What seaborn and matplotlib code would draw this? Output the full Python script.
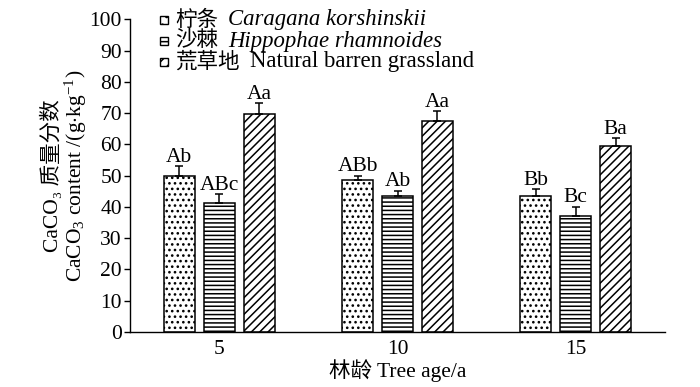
import matplotlib
matplotlib.use("Agg")
import matplotlib.pyplot as plt
import seaborn as sns
import pandas as pd
from matplotlib.patches import Rectangle
from matplotlib.offsetbox import HPacker, TextArea, DrawingArea, AnchoredOffsetbox

# ---- data ----
ages = ["5", "10", "15"]
species = ["柠条", "沙棘", "荒草地"]
species_latin = ["Caragana korshinskii", "Hippophae rhamnoides", "Natural barren grassland"]
latin_italic = [True, True, False]
caragana = [49.8, 48.6, 43.5]
hippophae = [41.4, 43.5, 37.1]
barren = [69.7, 67.4, 59.5]
caragana_err = [3.2, 1.4, 2.2]
hippophae_err = [2.7, 1.7, 3.0]
barren_err = [3.4, 3.3, 2.5]
caragana_sig = ["Ab", "ABb", "Bb"]
hippophae_sig = ["ABc", "Ab", "Bc"]
barren_sig = ["Aa", "Aa", "Ba"]
yticks = list(range(0, 101, 10))

sns.set_theme(style="white")
FAM = ["Liberation Serif", "DejaVu Serif", "Noto Sans CJK SC"]
plt.rcParams["font.family"] = FAM
plt.rcParams["mathtext.fontset"] = "custom"
plt.rcParams["mathtext.rm"] = "Liberation Serif"
plt.rcParams["mathtext.it"] = "Liberation Serif:italic"
plt.rcParams["hatch.linewidth"] = 1.1
plt.rcParams["hatch.color"] = "black"
FS = 15.5

df = pd.DataFrame({
    "age": ages * 3,
    "species": [species[0]] * 3 + [species[1]] * 3 + [species[2]] * 3,
    "value": caragana + hippophae + barren,
})
errs = [caragana_err, hippophae_err, barren_err]
sigs = [caragana_sig, hippophae_sig, barren_sig]
hatches = ["...", "----", "////"]

fig = plt.figure(figsize=(7.0, 3.87), dpi=100)
ax = fig.add_axes([130 / 700, 1 - 332 / 387, 535 / 700, (332 - 19.3) / 387])

sns.barplot(data=df, x="age", y="value", hue="species", order=ages,
            hue_order=species, palette=["white"] * 3, saturation=1,
            edgecolor="black", linewidth=1.1, width=0.672, gap=0.22,
            errorbar=None, legend=False, ax=ax)

for cont, hatch, err, sig in zip(ax.containers, hatches, errs, sigs):
    for bar, e, s in zip(cont, err, sig):
        bar.set_hatch(hatch)
        x = bar.get_x() + bar.get_width() / 2
        h = bar.get_height()
        ax.errorbar([x], [h], yerr=[[0], [e]], fmt="none", ecolor="black",
                    elinewidth=1.1, capsize=2.8, capthick=1.1)
        ax.text(x, h + e + 1.4, s, ha="center", va="baseline", fontsize=FS,
                color="black")

ax.set_xlim(-0.5, 2.5)
ax.set_ylim(0, 100)
ax.set_yticks(yticks)
ax.set_yticklabels([str(v) for v in yticks], fontsize=FS)
ax.set_xticks(range(len(ages)))
ax.set_xticklabels(ages, fontsize=FS)
ax.set_xticks([0.5, 1.5, 2.5], minor=True)
ax.tick_params(axis="x", which="major", length=0, pad=6, colors="black")
ax.tick_params(axis="x", which="minor", direction="in", length=6, width=1.0,
               color="black")
ax.tick_params(axis="y", which="major", direction="out", length=4.3, width=1.0,
               pad=1.5, colors="black", left=True)
ax.set_xlabel("")
ax.set_ylabel("")
for sp in ["top", "right"]:
    ax.spines[sp].set_visible(False)
for sp in ["left", "bottom"]:
    ax.spines[sp].set_color("black")
    ax.spines[sp].set_linewidth(1.0)

# y label (two lines, centred on the axes)
yc = 1 - 175.5 / 387
fig.text(52 / 700, yc, "CaCO₃ 质量分数", rotation=90, ha="center",
         va="center", fontsize=FS, color="black")
fig.text(76 / 700, yc, r"CaCO$_3$ content /(g$\cdot$kg$^{-1}$)", rotation=90,
         ha="center", va="center", fontsize=FS, color="black")

# x label
fig.text(397.5 / 700, 1 - 371 / 387, "林龄 Tree age/a", ha="center",
         va="center", fontsize=FS, color="black")

# legend
row_y = [20, 41, 62]
leg_hatch = ["..", "---", "///"]
for i in range(3):
    da = DrawingArea(6, 6, 0, 0)
    rect = Rectangle((0, 0), 6, 6, facecolor="white", edgecolor="black",
                     linewidth=1.0, hatch=leg_hatch[i])
    da.add_artist(rect)
    t1 = TextArea(species[i], textprops=dict(fontsize=FS, color="black"))
    t2 = TextArea(species_latin[i],
                  textprops=dict(fontsize=16.4, color="black",
                                 style="italic" if latin_italic[i] else "normal"))
    inner = HPacker(children=[t1, t2], align="baseline", pad=0, sep=7)
    row = HPacker(children=[da, inner], align="center", pad=0, sep=5)
    ab = AnchoredOffsetbox(loc="center left", child=row, pad=0, borderpad=0,
                           frameon=False,
                           bbox_to_anchor=(160 / 700, 1 - row_y[i] / 387),
                           bbox_transform=fig.transFigure)
    fig.add_artist(ab)

fig.savefig("out.png", dpi=100)
